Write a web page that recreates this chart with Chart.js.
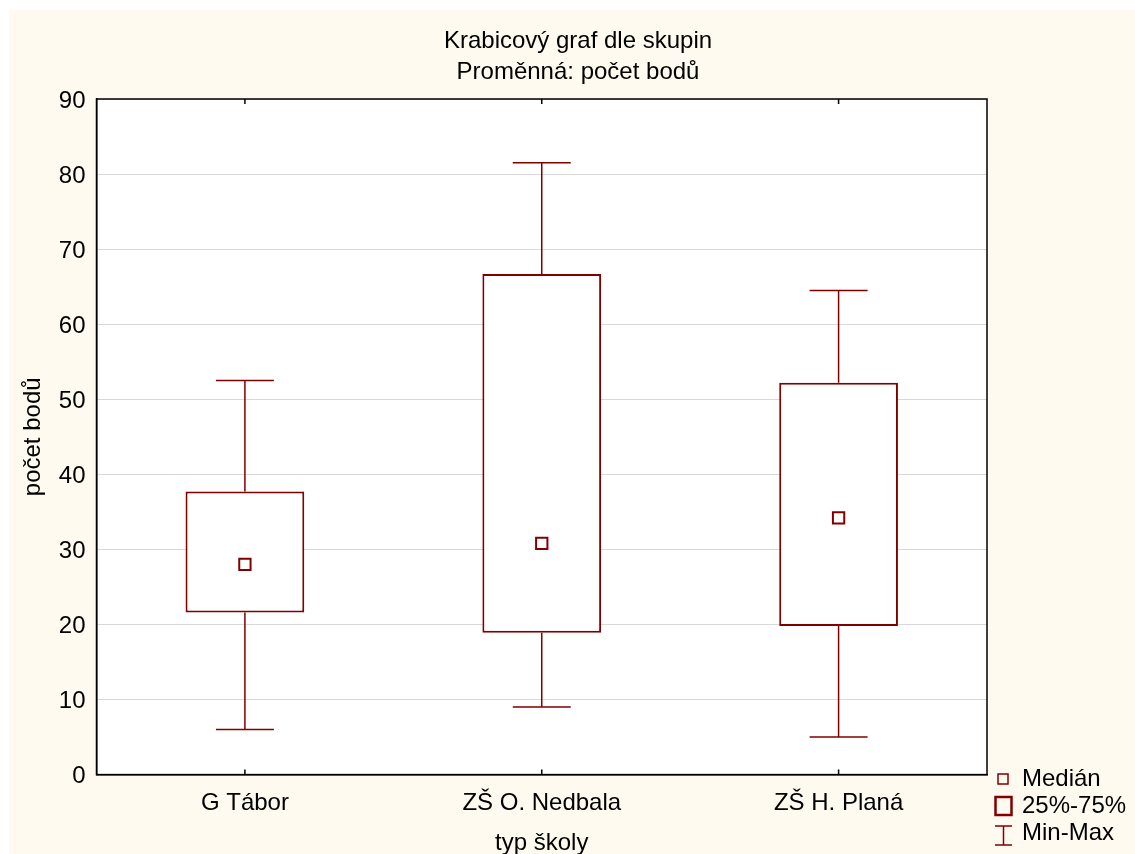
<!DOCTYPE html>
<html>
<head>
<meta charset="utf-8">
<script src="https://cdn.jsdelivr.net/npm/chart.js@4.4.0/dist/chart.umd.min.js"></script>
<style>
  html, body { margin:0; padding:0; background:#fff; }
  #wrap { width:1135px; height:854px; }
</style>
</head>
<body>
<div id="wrap"><canvas id="boxChart" width="1135" height="854"></canvas></div>
<script>
// box plot data
const groups = ["G Tábor", "ZŠ O. Nedbala", "ZŠ H. Planá"];
const minVals = [6, 9, 5];
const q1Vals = [21.6, 18.9, 19.8];
const medianVals = [28, 30.8, 34.2];
const q3Vals = [37.7, 66.7, 52.2];
const maxVals = [52.5, 81.5, 64.5];
const titleLines = ["Krabicový graf dle skupin", "Proměnná: počet bodů"];

const RED = "#800000";
const FONT = "'Liberation Sans', Arial, sans-serif";
const FS = 24;

const bgPlugin = {
    id: "bg",
    beforeDraw(chart){
        const ctx = chart.ctx;
        ctx.save();
        ctx.fillStyle = "#fff";
        ctx.fillRect(0, 0, chart.width, chart.height);
        ctx.fillStyle = "#fffaf0";
        ctx.fillRect(9, 10, chart.width - 9, chart.height - 10);
        const a = chart.chartArea;
        ctx.fillStyle = "#fff";
        ctx.fillRect(a.left, a.top, a.right - a.left, a.bottom - a.top);
        // title, centred over the whole figure
        ctx.fillStyle = "#000";
        ctx.font = FS + "px " + FONT;
        ctx.textAlign = "center";
        ctx.textBaseline = "middle";
        ctx.fillText(titleLines[0], 578, 41);
        ctx.fillText(titleLines[1], 578, 72);
        ctx.restore();
    }
};

const whiskerPlugin = {
    id: "whiskers",
    afterDatasetsDraw(chart){
        const ctx = chart.ctx;
        const x = chart.scales.x, y = chart.scales.y;
        const a = chart.chartArea;
        ctx.save();
        ctx.strokeStyle = RED;
        ctx.lineWidth = 1.5;
        groups.forEach((g, i) => {
            const cx = x.getPixelForValue(i);
            const half = 29;
            ctx.beginPath();
            ctx.moveTo(cx, y.getPixelForValue(q3Vals[i]));
            ctx.lineTo(cx, y.getPixelForValue(maxVals[i]));
            ctx.moveTo(cx - half, y.getPixelForValue(maxVals[i]));
            ctx.lineTo(cx + half, y.getPixelForValue(maxVals[i]));
            ctx.moveTo(cx, y.getPixelForValue(q1Vals[i]));
            ctx.lineTo(cx, y.getPixelForValue(minVals[i]));
            ctx.moveTo(cx - half, y.getPixelForValue(minVals[i]));
            ctx.lineTo(cx + half, y.getPixelForValue(minVals[i]));
            ctx.stroke();
        });
        // frame + inner ticks
        ctx.strokeStyle = "#000";
        ctx.lineWidth = 1.5;
        ctx.strokeRect(a.left, a.top, a.right - a.left, a.bottom - a.top);
        ctx.beginPath();
        groups.forEach((g, i) => {
            const cx = x.getPixelForValue(i);
            ctx.moveTo(cx, a.top); ctx.lineTo(cx, a.top + 5);
            ctx.moveTo(cx, a.bottom); ctx.lineTo(cx, a.bottom - 5);
        });
        ctx.stroke();

        // legend
        const tx = 1022;
        ctx.font = FS + "px " + FONT;
        ctx.fillStyle = "#000";
        ctx.textAlign = "left";
        ctx.textBaseline = "middle";
        ctx.fillText("Medián", tx, 779);
        ctx.fillText("25%-75%", tx, 806);
        ctx.fillText("Min-Max", tx, 833);
        ctx.strokeStyle = RED;
        ctx.lineWidth = 1.5;
        ctx.strokeRect(998, 774, 10, 10);
        ctx.lineWidth = 2.5;
        ctx.strokeRect(995.5, 797, 16, 18);
        ctx.lineWidth = 1.5;
        ctx.beginPath();
        ctx.moveTo(995, 826); ctx.lineTo(1012, 826);
        ctx.moveTo(1003.5, 826); ctx.lineTo(1003.5, 845);
        ctx.moveTo(995, 845); ctx.lineTo(1012, 845);
        ctx.stroke();
        ctx.restore();
    }
};

new Chart(document.getElementById("boxChart"), {
    type: "bar",
    data: {
        labels: groups,
        datasets: [
            {
                type: "line",
                label: "Medián",
                data: medianVals,
                showLine: false,
                pointStyle: "rect",
                pointRadius: 8,
                pointBorderWidth: 2,
                pointBorderColor: RED,
                pointBackgroundColor: "#fff",
                order: 0
            },
            {
                label: "25%-75%",
                data: groups.map((g, i) => [q1Vals[i], q3Vals[i]]),
                backgroundColor: "#fff",
                borderColor: RED,
                borderWidth: 2,
                borderSkipped: false,
                categoryPercentage: 1,
                barPercentage: 0.4,
                order: 1
            }
        ]
    },
    options: {
        responsive: false,
        animation: false,
        layout: { padding: { left: 9, right: 148, top: 99, bottom: 0 } },
        plugins: {
            legend: { display: false },
            tooltip: { enabled: false },
            title: { display: false }
        },
        scales: {
            x: {
                grid: { display: false, drawTicks: false },
                border: { display: true, color: "#000", width: 1.5 },
                ticks: { color: "#000", font: { family: FONT, size: FS }, padding: 14 },
                title: {
                    display: true, text: "typ školy", color: "#000",
                    font: { family: FONT, size: FS, lineHeight: 0.9 }, padding: { top: 1, bottom: 0 }
                }
            },
            y: {
                min: 0, max: 90,
                grid: { color: "#d8d8d8", lineWidth: 1, drawTicks: false },
                border: { display: true, color: "#000", width: 1.5 },
                ticks: { stepSize: 10, color: "#000", font: { family: FONT, size: FS }, padding: 11, labelOffset: 2 },
                title: {
                    display: true, text: "počet bodů", color: "#000",
                    font: { family: FONT, size: FS }, padding: { top: 10, bottom: 0 }
                }
            }
        }
    },
    plugins: [bgPlugin, whiskerPlugin]
});
</script>
</body>
</html>
